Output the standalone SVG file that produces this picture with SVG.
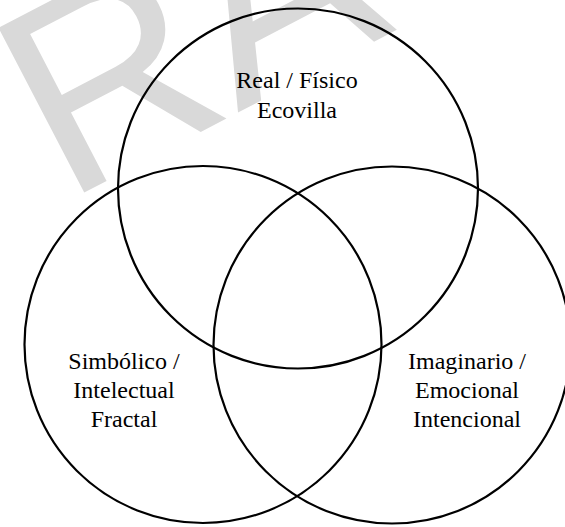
<svg xmlns="http://www.w3.org/2000/svg" width="565" height="527" viewBox="0 0 565 527">
<style>
.c{fill:none;stroke:#000;stroke-width:2.2}
.t{font-family:"Liberation Serif","Times New Roman",serif;font-size:24px;fill:#000;text-anchor:middle}
.wm{font-family:"Liberation Sans",Arial,sans-serif;font-size:270px;fill:#d9d9d9}
</style>
<rect width="565" height="527" fill="#fff"/>
<g id="watermark">
<text class="wm" transform="translate(64.6,202.8) rotate(-27.5)">RA</text>
</g>
<g id="real">
<circle class="c" cx="298" cy="188.5" r="180"/>
<text class="t" x="297" y="88.3">Real / Físico</text>
<text class="t" x="297" y="117.5">Ecovilla</text>
</g>
<g id="simbolico">
<circle class="c" cx="203" cy="344.5" r="178.5"/>
<text class="t" x="124" y="369">Simbólico /</text>
<text class="t" x="124" y="398">Intelectual</text>
<text class="t" x="124" y="427">Fractal</text>
</g>
<g id="imaginario">
<circle class="c" cx="392" cy="345" r="178.5"/>
<text class="t" x="467" y="369">Imaginario /</text>
<text class="t" x="467" y="398">Emocional</text>
<text class="t" x="467" y="427">Intencional</text>
</g>
<g id="connectors"/>
</svg>
